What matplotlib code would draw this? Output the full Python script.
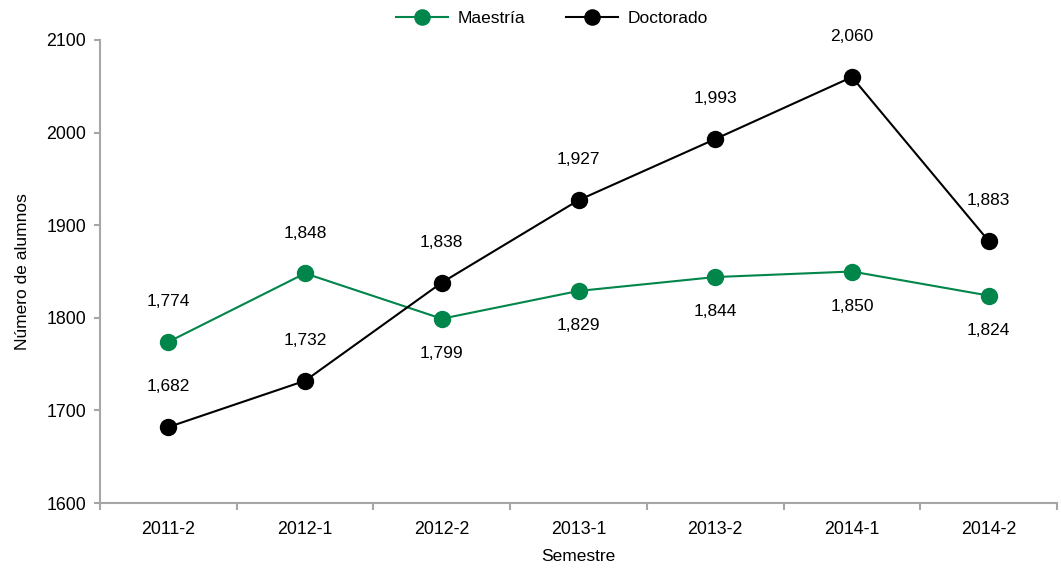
import numpy as np
import matplotlib.pyplot as plt

plt.rcParams['font.family'] = ['Liberation Sans', 'DejaVu Sans']

semestres = ['2011-2', '2012-1', '2012-2', '2013-1', '2013-2', '2014-1', '2014-2']
maestria = [1774, 1848, 1799, 1829, 1844, 1850, 1824]
doctorado = [1682, 1732, 1838, 1927, 1993, 2060, 1883]
# posicion de la etiqueta de maestria: arriba (+1) o abajo (-1)
pos_maestria = [1, 1, -1, -1, -1, -1, -1]

verde = '#00854A'
gris = '#A6A6A6'

fig = plt.figure(figsize=(10.61, 5.68), dpi=100)
ax = fig.add_axes([100 / 1061, 65 / 568, 957 / 1061, 463 / 568])

x = np.arange(len(semestres))
l1, = ax.plot(x, maestria, color=verde, lw=1.5, marker='o', ms=11.5,
              markerfacecolor=verde, markeredgecolor=verde, label='Maestría')
l2, = ax.plot(x, doctorado, color='black', lw=1.5, marker='o', ms=11.5,
              markerfacecolor='black', markeredgecolor='black', label='Doctorado')

for i, v in enumerate(maestria):
    off = 29 if pos_maestria[i] > 0 else -25
    ax.annotate(f'{v:,}', (x[i], v), xytext=(0, off), textcoords='offset points',
                ha='center', va='center', fontsize=12.5)
for i, v in enumerate(doctorado):
    ax.annotate(f'{v:,}', (x[i], v), xytext=(0, 29), textcoords='offset points',
                ha='center', va='center', fontsize=12.5)

ax.set_xlim(-0.5, len(semestres) - 0.5)
ax.set_ylim(1600, 2100)
ax.set_yticks(np.arange(1600, 2101, 100))
ax.set_xticks(x)
ax.set_xticklabels(semestres)
ax.set_xticks(np.arange(-0.5, len(semestres), 1), minor=True)
ax.tick_params(axis='x', which='major', length=0, pad=13, labelsize=12.8)
ax.tick_params(axis='x', which='minor', length=5, color=gris, width=1.5)
ax.tick_params(axis='y', length=4, color=gris, width=1.5, labelsize=12.8, pad=6)

for s in ['top', 'right']:
    ax.spines[s].set_visible(False)
for s in ['left', 'bottom']:
    ax.spines[s].set_color(gris)
    ax.spines[s].set_linewidth(1.5)

ax.set_xlabel('Semestre', fontsize=12.5, labelpad=8)
ax.set_ylabel('Número de alumnos', fontsize=12.5, labelpad=12)

fig.legend(handles=[l1, l2], loc='center', bbox_to_anchor=(552 / 1061, 1 - 18 / 568),
           ncol=2, frameon=False, fontsize=12.5, handlelength=3, columnspacing=2.3,
           handletextpad=0.6, markerscale=0.95)

fig.savefig('out.png', dpi=100)
